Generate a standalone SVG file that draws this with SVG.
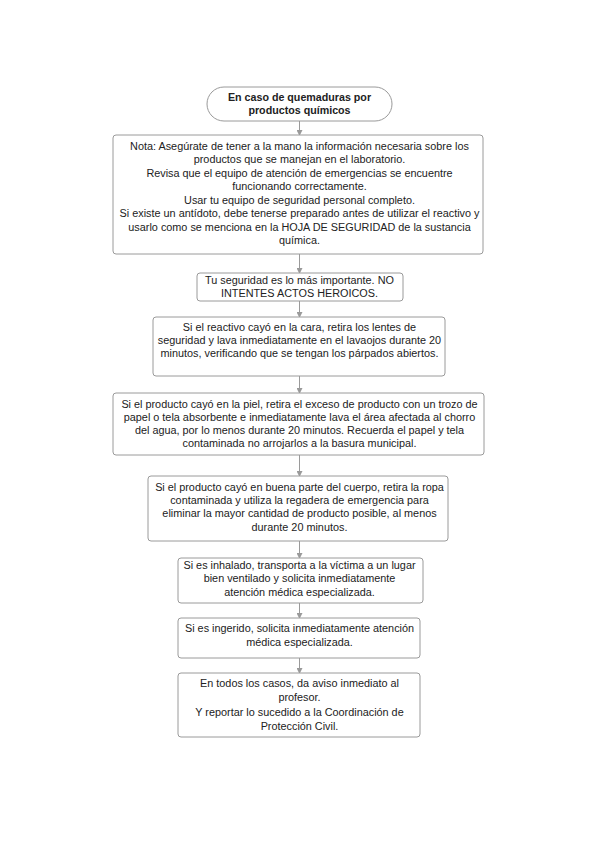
<svg xmlns="http://www.w3.org/2000/svg" width="599" height="848" viewBox="0 0 599 848">
<defs>
<style>
.box{fill:#fff;stroke:#9a9a9a;stroke-width:1}
.t{font-family:"Liberation Sans",Arial,sans-serif;font-size:10.85px;fill:#222;text-anchor:middle}
.b{font-weight:bold;font-size:10.7px}
.c{stroke:#9a9a9a;stroke-width:1;fill:none;marker-end:url(#ah)}
</style>
<marker id="ah" viewBox="0 0 6 6" refX="5" refY="3" markerWidth="6" markerHeight="6" orient="auto" markerUnits="userSpaceOnUse">
<path d="M0,0 L6,3 L0,6 z" fill="#9a9a9a"/>
</marker>
</defs>
<rect width="599" height="848" fill="#fff"/>
<g id="connectors">
<line class="c" x1="299.5" y1="121" x2="299.5" y2="135"/>
<line class="c" x1="299.5" y1="254" x2="299.5" y2="273"/>
<line class="c" x1="299.5" y1="301" x2="299.5" y2="317"/>
<line class="c" x1="299.5" y1="376" x2="299.5" y2="393"/>
<line class="c" x1="299.5" y1="455" x2="299.5" y2="476"/>
<line class="c" x1="299.5" y1="541" x2="299.5" y2="558"/>
<line class="c" x1="299.5" y1="603" x2="299.5" y2="618"/>
<line class="c" x1="299.5" y1="658" x2="299.5" y2="673"/>
</g>
<g id="n1">
<rect class="box" x="207" y="87" width="185" height="34" rx="17"/>
<text class="t b" x="299.5" y="101">En caso de quemaduras por</text>
<text class="t b" x="299.5" y="114">productos químicos</text>
</g>
<g id="n2">
<rect class="box" x="113" y="135" width="370" height="119" rx="3"/>
<text class="t" x="299.5" y="150">Nota: Asegúrate de tener a la mano la información necesaria sobre los</text>
<text class="t" x="299.5" y="163">productos que se manejan en el laboratorio.</text>
<text class="t" x="299.5" y="177">Revisa que el equipo de atención de emergencias se encuentre</text>
<text class="t" x="299.5" y="190">funcionando correctamente.</text>
<text class="t" x="299.5" y="204">Usar tu equipo de seguridad personal completo.</text>
<text class="t" x="299.5" y="217">Si existe un antídoto, debe tenerse preparado antes de utilizar el reactivo y</text>
<text class="t" x="299.5" y="231">usarlo como se menciona en la HOJA DE SEGURIDAD de la sustancia</text>
<text class="t" x="299.5" y="244">química.</text>
</g>
<g id="n3">
<rect class="box" x="197" y="273" width="206" height="28" rx="3"/>
<text class="t" x="299.5" y="284">Tu seguridad es lo más importante. NO</text>
<text class="t" x="299.5" y="297">INTENTES ACTOS HEROICOS.</text>
</g>
<g id="n4">
<rect class="box" x="153" y="317" width="292" height="59" rx="3"/>
<text class="t" x="299.5" y="331">Si el reactivo cayó en la cara, retira los lentes de</text>
<text class="t" x="299.5" y="344">seguridad y lava inmediatamente en el lavaojos durante 20</text>
<text class="t" x="299.5" y="357">minutos, verificando que se tengan los párpados abiertos.</text>
</g>
<g id="n5">
<rect class="box" x="113" y="393" width="371" height="62" rx="3"/>
<text class="t" x="299.5" y="408">Si el producto cayó en la piel, retira el exceso de producto con un trozo de</text>
<text class="t" x="299.5" y="421">papel o tela absorbente e inmediatamente lava el área afectada al chorro</text>
<text class="t" x="299.5" y="434">del agua, por lo menos durante 20 minutos. Recuerda el papel y tela</text>
<text class="t" x="299.5" y="447">contaminada no arrojarlos a la basura municipal.</text>
</g>
<g id="n6">
<rect class="box" x="148" y="476" width="300" height="65" rx="3"/>
<text class="t" x="299.5" y="491">Si el producto cayó en buena parte del cuerpo, retira la ropa</text>
<text class="t" x="299.5" y="504">contaminada y utiliza la regadera de emergencia para</text>
<text class="t" x="299.5" y="517">eliminar la mayor cantidad de producto posible, al menos</text>
<text class="t" x="299.5" y="531">durante 20 minutos.</text>
</g>
<g id="n7">
<rect class="box" x="178" y="558" width="245" height="45" rx="3"/>
<text class="t" x="299.5" y="569">Si es inhalado, transporta a la víctima a un lugar</text>
<text class="t" x="299.5" y="582">bien ventilado y solicita inmediatamente</text>
<text class="t" x="299.5" y="596">atención médica especializada.</text>
</g>
<g id="n8">
<rect class="box" x="178" y="618" width="242" height="40" rx="3"/>
<text class="t" x="299.5" y="632">Si es ingerido, solicita inmediatamente atención</text>
<text class="t" x="299.5" y="646">médica especializada.</text>
</g>
<g id="n9">
<rect class="box" x="178" y="673" width="242" height="64" rx="3"/>
<text class="t" x="299.5" y="687">En todos los casos, da aviso inmediato al</text>
<text class="t" x="299.5" y="701">profesor.</text>
<text class="t" x="299.5" y="716">Y reportar lo sucedido a la Coordinación de</text>
<text class="t" x="299.5" y="730">Protección Civil.</text>
</g>
</svg>
